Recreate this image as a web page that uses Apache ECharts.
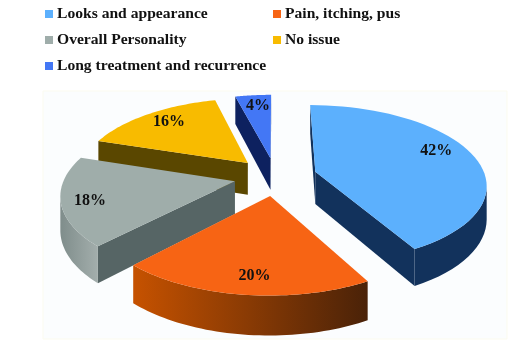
<!DOCTYPE html>
<html><head><meta charset="utf-8">
<style>html,body{margin:0;padding:0;background:#fff}#c{width:529px;height:355px}</style>
<script src="https://cdn.jsdelivr.net/npm/echarts@6/dist/echarts.min.js"></script>
</head><body><div id="c"></div>
<script>
// data
const categories = ['Looks and appearance','Pain, itching, pus','Overall Personality','No issue','Long treatment and recurrence'];
const values = [42,20,18,16,4];

// styles
const topColors = ['#5cb0fd','#f76414','#9fadaa','#f8bb00','#4377f5'];
const edgeColors = ['#12325c','#5a2a08','#566565','#5a4700','#0d215f'];
const rimColors = [['#12325c','#12325c'],['#c65200','#4a2208'],['#7f8d8b','#a3aeac'],['#5a4700','#5a4700'],['#0d215f','#0d215f']];
const labelRadius = [0.75,0.92,0.87,0.7,0.75];
const labelNudge = [[3,-7],[9,-10],[6,2],[-7,-6],[1,-4]];
const drawOrder = [4,5,3,2,1];
const legendPos = [[45,6],[273,6],[45,32],[273,32],[45,58]];
const FONT = '"Liberation Serif", serif';

// projection of the tilted, exploded pie
const cx=275.5, cy=176.5, rx=170, ry=78, persp=0.15, depth=32.5, explode=0.244, STEPS=48;
const total = values.reduce((a,b)=>a+b,0);
function project(X,Y){
  const w = 1/(1-persp*Y);
  return [cx+rx*X*w, cy+ry*Y*w];
}
function wall(pts,color){
  const down = pts.map(p=>{
    const w = 1/(1-persp*p[3]);
    return [p[0],p[1]+depth*w];
  });
  const shape = pts.map(p=>[p[0],p[1]]).concat(down.reverse());
  return {type:'polygon',shape:{points:shape},style:{fill:color},silent:true};
}
function makeRender(i){
  return function(params,api){
    const v = api.value(0);
    let before=0; for(let j=0;j<i;j++) before+=values[j];
    const a0 = before/total*2*Math.PI, a1=(before+v)/total*2*Math.PI, mid=(a0+a1)/2;
    const ox = explode*Math.sin(mid), oy = -explode*Math.cos(mid);
    const rim=[];
    for(let s=0;s<=STEPS;s++){
      const a=a0+(a1-a0)*s/STEPS, X=ox+Math.sin(a), Y=oy-Math.cos(a), p=project(X,Y);
      rim.push([p[0],p[1],X,Y]);
    }
    const ap=project(ox,oy), apex=[ap[0],ap[1],ox,oy];
    const children=[];
    const first=rim[0], last=rim[STEPS];
    if(first[0]<apex[0]) children.push(wall([apex,first],edgeColors[i]));
    if(apex[0]<last[0]) children.push(wall([last,apex],edgeColors[i]));
    let run=[];
    const flush=()=>{
      if(run.length>1){
        const g=new echarts.graphic.LinearGradient(0,0,1,0,[{offset:0,color:rimColors[i][0]},{offset:1,color:rimColors[i][1]}]);
        children.push(wall(run,g));
      }
      run=[];
    };
    for(let s=0;s<STEPS;s++){
      if(rim[s+1][0]<rim[s][0]){ if(!run.length) run.push(rim[s]); run.push(rim[s+1]); }
      else flush();
    }
    flush();
    children.push({type:'polygon',shape:{points:[[apex[0],apex[1]]].concat(rim.map(p=>[p[0],p[1]]))},style:{fill:topColors[i]},silent:true});
    const f=labelRadius[i], lp=project(ox+f*Math.sin(mid),oy-f*Math.cos(mid));
    children.push({type:'text',z2:10,silent:true,style:{x:lp[0]+labelNudge[i][0],y:lp[1]+labelNudge[i][1],text:v+'%',fill:'#111',font:'bold 16px '+FONT,align:'center',verticalAlign:'middle'}});
    return {type:'group',children};
  };
}

const chart = echarts.init(document.getElementById('c'),null,{renderer:'canvas'});
chart.setOption({
  animation:false,
  backgroundColor:'#fff',
  graphic:[{type:'rect',z:-1,silent:true,shape:{x:43,y:91,width:464,height:248},style:{fill:'#fbfdfe',stroke:'#fbfbef',lineWidth:1}}],
  legend:categories.map((c,i)=>({
    data:[c],left:legendPos[i][0],top:legendPos[i][1],padding:0,
    icon:'rect',itemWidth:8,itemHeight:8,itemGap:0,selectedMode:false,
    textStyle:{fontFamily:FONT,fontWeight:'bold',fontSize:15.6,color:'#111',padding:[0,0,0,-1]}
  })),
  series:categories.map((c,i)=>({
    type:'custom',name:c,coordinateSystem:'none',z:drawOrder[i],
    itemStyle:{color:topColors[i]},
    data:[[values[i]]],
    renderItem:makeRender(i)
  }))
});
</script></body></html>
